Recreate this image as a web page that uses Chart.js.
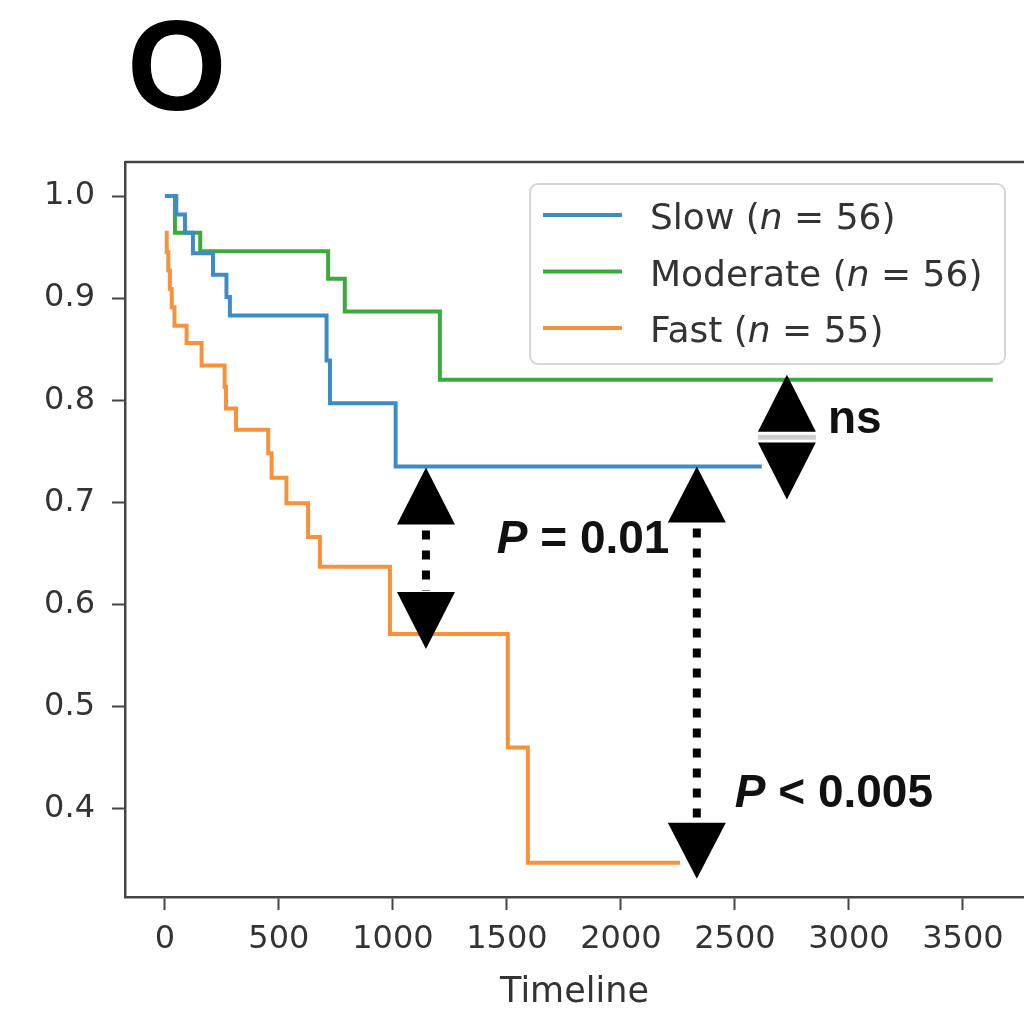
<!DOCTYPE html>
<html>
<head>
<meta charset="utf-8">
<script src="https://cdn.jsdelivr.net/npm/chart.js@4.4.1/dist/chart.umd.min.js"></script>
<style>
  html, body { margin: 0; padding: 0; background: #fff; overflow: hidden; }
</style>
</head>
<body>
<canvas id="kmChart" width="1024" height="1016"></canvas>
<script>
// Curvas Kaplan-Meier: tiempos de evento y supervivencia tras cada evento
const grupos = ['Slow', 'Moderate', 'Fast'];
const nGrupo = [56, 56, 55];
const colores = ['#3f8bc6', '#3aab3a', '#f8923a'];

const tiempoSlow = [0, 50, 88, 123, 211, 270, 285, 709, 724, 1012, 2618];
const survSlow = [1.0, 0.982, 0.964, 0.944, 0.923, 0.901, 0.883, 0.839, 0.797, 0.735, 0.735];

const tiempoModerate = [0, 44, 155, 716, 789, 1206, 3631];
const survModerate = [1.0, 0.964, 0.946, 0.919, 0.887, 0.820, 0.820];

const tiempoFast = [0, 8, 15, 22, 30, 42, 95, 161, 262, 268, 312, 453, 468, 533, 628, 680, 987, 1504, 1592, 2259];
const survFast = [0.964, 0.945, 0.927, 0.909, 0.891, 0.873, 0.856, 0.834, 0.813, 0.792, 0.771, 0.748, 0.724, 0.699, 0.666, 0.637, 0.571, 0.460, 0.347, 0.347];

const xTicks = [0, 500, 1000, 1500, 2000, 2500, 3000, 3500];
const yTicks = [0.4, 0.5, 0.6, 0.7, 0.8, 0.9, 1.0];

// comparaciones: posicion en el timeline y texto
const flechaX = [1145, 2333, 2728];
const flechaTexto = [['P', ' = 0.01'], ['P', ' < 0.005'], ['', 'ns']];

const tiempos = [tiempoSlow, tiempoModerate, tiempoFast];
const survs = [survSlow, survModerate, survFast];

function nivel(g, t) {
  let v = survs[g][0];
  tiempos[g].forEach((ti, i) => { if (ti <= t) v = survs[g][i]; });
  return v;
}

const datasets = grupos.map((g, k) => ({
  label: g + ' (n = ' + nGrupo[k] + ')',
  data: tiempos[k].map((t, i) => ({ x: t, y: survs[k][i] })),
  borderColor: colores[k],
  borderWidth: 4,
  pointRadius: 0,
  fill: false,
  stepped: 'before'
}));

const FUENTE = '"DejaVu Sans", sans-serif';
const NEGRITA = '"Liberation Sans", Arial, sans-serif';

function triangulo(ctx, cx, ápice, base) {
  ctx.beginPath();
  ctx.moveTo(cx, ápice);
  ctx.lineTo(cx - 29, base);
  ctx.lineTo(cx + 29, base);
  ctx.closePath();
  ctx.fill();
}

function punteado(ctx, cx, y1, y2) {
  ctx.save();
  ctx.setLineDash([9, 11]);
  ctx.lineWidth = 8;
  ctx.strokeStyle = '#000';
  ctx.beginPath();
  ctx.moveTo(cx, y1);
  ctx.lineTo(cx, y2);
  ctx.stroke();
  ctx.restore();
}

function textoP(ctx, partes, x, y) {
  ctx.font = 'italic bold 46px ' + NEGRITA;
  ctx.fillText(partes[0], x, y);
  const w = partes[0] ? ctx.measureText(partes[0]).width : 0;
  ctx.font = 'bold 46px ' + NEGRITA;
  ctx.fillText(partes[1], x + w, y);
}

const extras = {
  id: 'extras',
  afterDraw(chart) {
    const { ctx, chartArea, scales: { x, y } } = chart;
    ctx.save();

    // borde superior
    ctx.strokeStyle = '#444';
    ctx.lineWidth = 2.5;
    ctx.beginPath();
    ctx.moveTo(chartArea.left, chartArea.top);
    ctx.lineTo(chartArea.right, chartArea.top);
    ctx.stroke();

    // letra del panel
    ctx.fillStyle = '#000';
    ctx.font = 'bold 128px ' + NEGRITA;
    ctx.textBaseline = 'alphabetic';
    ctx.fillText('O', 127, 110);

    // flechas de comparacion
    ctx.fillStyle = '#000';
    const c1 = x.getPixelForValue(flechaX[0]);
    const a1 = y.getPixelForValue(nivel(0, flechaX[0]));
    const b1 = y.getPixelForValue(nivel(2, flechaX[0]));
    triangulo(ctx, c1, a1 + 1, a1 + 58);
    punteado(ctx, c1, a1 + 64, b1 - 43);
    triangulo(ctx, c1, b1 + 15, b1 - 42);

    const c2 = x.getPixelForValue(flechaX[1]);
    const a2 = y.getPixelForValue(nivel(0, flechaX[1]));
    const b2 = y.getPixelForValue(nivel(2, flechaX[1]));
    triangulo(ctx, c2, a2, a2 + 56);
    punteado(ctx, c2, a2 + 62, b2 - 41);
    triangulo(ctx, c2, b2 + 16, b2 - 40);

    const c3 = x.getPixelForValue(flechaX[2]);
    const a3 = y.getPixelForValue(nivel(1, flechaX[2]));
    const b3 = y.getPixelForValue(nivel(0, flechaX[2]));
    triangulo(ctx, c3, a3 - 5, a3 + 52);
    triangulo(ctx, c3, b3 + 33, b3 - 24);
    ctx.strokeStyle = '#cfcfcf';
    ctx.lineWidth = 5;
    ctx.beginPath();
    ctx.moveTo(c3 - 29, a3 + 57.5);
    ctx.lineTo(c3 + 29, a3 + 57.5);
    ctx.stroke();

    ctx.fillStyle = '#111';
    textoP(ctx, flechaTexto[0], c2 - 200, a2 + 86);
    textoP(ctx, flechaTexto[1], c2 + 38, b2 - 56);
    textoP(ctx, flechaTexto[2], c3 + 41, a3 + 53);

    // leyenda
    const lx = 530, ly = 184, lw = 475, lh = 180;
    ctx.fillStyle = 'rgba(255,255,255,0.85)';
    ctx.strokeStyle = '#d6d6d6';
    ctx.lineWidth = 2;
    ctx.beginPath();
    ctx.roundRect(lx, ly, lw, lh, 8);
    ctx.fill();
    ctx.stroke();

    grupos.forEach((g, k) => {
      const base = 229 + k * 56.5;
      ctx.strokeStyle = colores[k];
      ctx.lineWidth = 4;
      ctx.beginPath();
      ctx.moveTo(543, base - 14);
      ctx.lineTo(622, base - 14);
      ctx.stroke();

      ctx.fillStyle = '#333';
      let tx = 650;
      ctx.font = '36px ' + FUENTE;
      const p1 = g + ' (';
      ctx.fillText(p1, tx, base);
      tx += ctx.measureText(p1).width;
      ctx.font = 'italic 36px ' + FUENTE;
      ctx.fillText('n', tx, base);
      tx += ctx.measureText('n').width;
      ctx.font = '36px ' + FUENTE;
      ctx.fillText(' = ' + nGrupo[k] + ')', tx, base);
    });

    ctx.restore();
  }
};

const ctxKM = document.getElementById('kmChart').getContext('2d');
new Chart(ctxKM, {
  type: 'line',
  data: { datasets: datasets },
  options: {
    responsive: false,
    animation: false,
    layout: { padding: { top: 162, right: 0, left: 0, bottom: 0 } },
    plugins: { legend: { display: false }, tooltip: { enabled: false } },
    scales: {
      x: {
        type: 'linear',
        min: -175,
        max: 3768,
        afterBuildTicks: s => { s.ticks = xTicks.map(v => ({ value: v })); },
        afterFit: s => { s.height = 119; },
        ticks: { font: { family: FUENTE, size: 32 }, color: '#333', padding: 10, maxRotation: 0, autoSkip: false, callback: v => String(v) },
        grid: { display: true, drawOnChartArea: false, drawTicks: true, tickLength: 13, tickColor: '#444', tickWidth: 2 },
        border: { display: true, color: '#444', width: 2.5 },
        title: { display: true, text: 'Timeline', font: { family: FUENTE, size: 35 }, color: '#333', padding: { top: 0, bottom: 2 } }
      },
      y: {
        type: 'linear',
        min: 0.3135,
        max: 1.0333,
        afterBuildTicks: s => { s.ticks = yTicks.map(v => ({ value: v })); },
        afterFit: s => { s.width = 125; },
        ticks: { font: { family: FUENTE, size: 32 }, color: '#333', padding: 17, callback: v => v.toFixed(1) },
        grid: { display: true, drawOnChartArea: false, drawTicks: true, tickLength: 13, tickColor: '#444', tickWidth: 2 },
        border: { display: true, color: '#444', width: 2.5 }
      }
    }
  },
  plugins: [extras]
});
</script>
</body>
</html>
